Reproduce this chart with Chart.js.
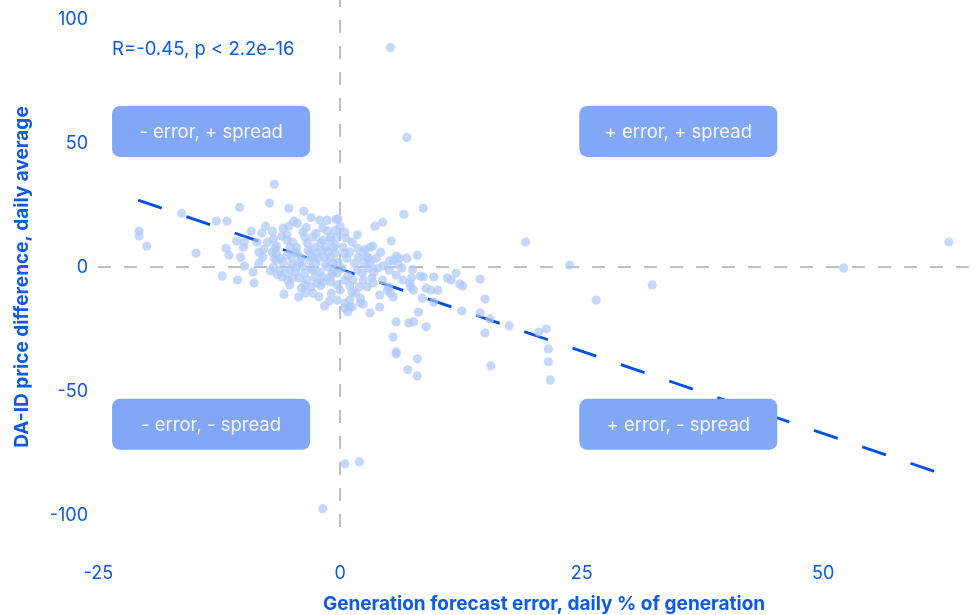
<!DOCTYPE html>
<html><head><meta charset="utf-8">
<script src="https://cdn.jsdelivr.net/npm/chart.js@4.4.1/dist/chart.umd.min.js"></script>
<style>html,body{margin:0;padding:0;background:#fff}</style>
</head><body>
<canvas id="c" width="974" height="615"></canvas>
<script>
// Generation forecast error (daily % of generation)
const errX = [5.2,6.9,63.0,52.1,32.3,26.5,23.75,19.2,0.5,2.0,-1.8,21.55,21.55,21.75,21.35,20.55,17.5,15.0,15.6,15.5,14.5,12.6,15.0,14.5,12.7,12.4,
5.5,5.8,5.8,5.8,7.1,7.6,8.9,8.0,7.0,8.0,8.1,3.1,4.1,0.8,0.5,2.1,2.4,1.25,
6.6,8.6,3.6,4.4,5.3,8.0,4.2,3.1,2.6,3.4,5.8,6.1,6.9,5.1,5.5,3.9,6.4,7.4,8.3,8.6,9.7,11.1,12.0,11.5,
9.4,10.1,8.9,7.2,7.3,7.6,8.5,9.7,4.1,5.2,5.5,4.9,5.0,3.1,2.9,3.0,2.4,2.0,1.6,2.1,1.0,-0.3,0.5,1.0,
-1.0,-0.5,-0.3,0.5,0.6,1.25,1.8,1.0,0.7,-0.5,-0.2,0.5,1.9,2.4,2.8,-0.3,-0.7,-1.0,1.8,2.3,1.35,2.4,3.3,3.4,2.8,
-6.8,-10.4,-7.3,-5.3,-3.75,-12.8,-11.7,-14.9,-11.8,-11.5,-10.7,-9.9,-10.0,-9.2,-8.1,-7.7,-10.3,-9.9,-8.4,-8.4,-7.9,
-12.2,-10.6,-8.9,-6.9,-5.9,-5.3,-4.4,-5.8,-4.3,-3.6,-2.8,-1.6,-1.1,-20.8,-20.8,-20.0,-16.4,
-6.7,-6.6,-6.6,-6.9,-6.25,-5.5,-5.2,-5.0,-5.5,-4.9,-4.5,-4.4,-4.2,-4.5,-5.2,-3.85,-3.65,-3.4,-3.3,-3.1,-3.65,
-2.8,-2.6,-2.4,-2.5,-2.8,-2.1,-1.8,-1.35,-1.8,-1.9,-1.6,-1.35,-1.8,-1.0,-0.7,-1.0,-0.7,-0.3,-1.0,
-5.7,-5.4,-4.9,-5.2,-4.2,-3.4,-3.65,-2.6,-2.4,-1.8,-6.25,-6.0,-6.8,-7.0,-6.6,-4.7,-3.1,-2.3,-3.85,-2.1,-1.5,-5.9,
0.2,0.5,0.0,1.25,4.4,5.8,6.5,5.1,3.75,-0.4,
-7.5,-6.0,-4.0,-3.0,-2.0,-1.2,-0.8,-5.0,-6.5,-4.6,-3.5,-2.9,-2.0,-1.5,-0.5,0.3,1.5,0.8,-7.2,-8.0,
-7.0,-5.5,-4.0,-3.0,-2.5,-1.3,0.0,1.0,-0.9,-2.2,3.5,4.5,6.0,7.5,-9.0,-8.6,-4.8,-3.0,-0.2,1.8];
// DA-ID price difference (daily average)
const spreadY = [88.5,52.3,10.1,-0.4,-7.2,-13.3,0.8,10.1,-79.3,-78.5,-97.4,-33.0,-38.2,-45.5,-24.9,-26.2,-23.7,-26.6,-39.8,-20.9,-18.5,-17.7,-12.9,-4.8,-7.6,-6.8,
-28.2,-34.2,-35.0,-22.1,-22.5,-22.1,-24.1,-37.0,-41.4,-43.9,-18.1,-18.5,-16.1,-18.1,-16.5,-14.5,-14.9,-16.1,
21.3,23.7,16.5,18.1,10.5,4.8,6.0,8.0,7.2,8.5,4.4,3.6,3.6,2.4,2.8,-0.4,-0.4,-4.4,-3.6,-4.0,-4.0,-4.4,-2.4,-5.2,
-9.3,-9.3,-8.5,-6.4,-8.0,-9.3,-12.5,-14.1,-11.3,-10.5,-12.1,-9.3,-8.0,1.6,-0.4,3.6,2.0,-8.0,-10.5,-12.5,-13.3,-13.3,-14.5,-16.1,
10.9,14.9,12.1,14.1,11.7,10.1,7.6,6.0,3.6,5.6,2.0,5.6,4.0,6.0,4.0,-2.4,-1.2,-4.0,-1.2,-2.4,-5.2,-5.2,-4.4,-6.4,-8.0,
33.4,24.1,25.8,23.7,22.5,18.5,18.5,5.6,7.6,4.8,10.5,10.1,8.0,14.5,13.7,16.5,4.0,0.4,1.6,6.0,7.2,
-3.6,-5.2,-6.4,11.3,15.7,16.5,17.7,-10.9,-12.1,-10.5,-10.5,-15.7,-13.7,14.5,12.5,8.5,21.7,
7.6,5.6,2.8,0.0,3.6,10.9,8.0,4.0,4.8,10.1,8.0,5.6,2.0,0.0,-1.2,14.1,12.1,9.7,6.8,2.8,-2.4,
12.1,8.0,5.6,1.6,-1.2,18.9,15.7,18.9,10.9,6.8,4.0,0.0,-4.0,12.1,8.0,4.0,1.6,-7.2,-6.0,
-2.4,-5.2,-4.4,-7.2,-4.4,-5.2,-7.2,-4.0,-6.4,-6.0,-1.2,-4.0,3.6,6.0,8.5,6.0,5.6,3.6,0.4,-2.0,8.0,2.0,
-0.4,-5.2,-9.3,-10.1,-5.2,-3.2,-5.2,-1.2,3.6,19.3,
10.0,12.5,3.5,-0.5,10.0,6.0,-2.5,1.0,-3.0,-2.0,16.0,3.9,-7.5,1.0,9.0,8.0,1.5,-3.5,-1.5,4.0,
14.5,13.0,-8.5,-8.0,13.5,14.5,16.5,-7.5,-10.5,-12.0,-2.0,0.5,1.0,-1.0,-2.0,10.0,18.5,20.0,19.5,13.0];
const xTicks = [-25, 0, 25, 50];
const yTicks = [-100, -50, 0, 50, 100];
// regression line endpoints
const regX = [-20.9, 62.2];
const regY = [27.0, -83.3];
// quadrant labels
const quadLabels = ['- error, + spread', '+ error, + spread', '- error, - spread', '+ error, - spread'];
const quadX = [-13.35, 35.0, -13.35, 35.0];
const quadY = [54.7, 54.7, -63.4, -63.4];
const statText = 'R=-0.45, p < 2.2e-16';
const statPos = [-23.6, 87.7];
const xTitle = 'Generation forecast error, daily % of generation';
const yTitle = 'DA-ID price difference, daily average';

const BLUE = '#0d5ae6';
const FONT = 'Inter, "Noto Sans", sans-serif';

const deco = {
  id: 'deco',
  beforeDatasetsDraw(chart) {
    const {ctx, chartArea: a, scales: {x, y}} = chart;
    const y0 = y.getPixelForValue(0), x0 = x.getPixelForValue(0);
    ctx.save();
    ctx.strokeStyle = '#bdbdbd'; ctx.lineWidth = 2; ctx.setLineDash([13, 13]);
    ctx.beginPath(); ctx.moveTo(a.left, y0); ctx.lineTo(a.right, y0); ctx.stroke();
    ctx.beginPath(); ctx.moveTo(x0, a.bottom); ctx.lineTo(x0, a.top); ctx.stroke();
    ctx.restore();
  },
  afterDatasetsDraw(chart) {
    const {ctx, scales: {x, y}} = chart;
    ctx.save();
    for (let i = 0; i < quadLabels.length; i++) {
      const cx = x.getPixelForValue(quadX[i]), cy = y.getPixelForValue(quadY[i]);
      const w = 198, h = 51;
      ctx.fillStyle = '#80a8f6';
      ctx.beginPath(); ctx.roundRect(cx - w / 2, cy - h / 2, w, h, 8); ctx.fill();
      ctx.fillStyle = '#f3f6ff';
      ctx.font = '18.5px ' + FONT;
      ctx.textAlign = 'center'; ctx.textBaseline = 'middle';
      ctx.fillText(quadLabels[i], cx, cy + 1);
    }
    ctx.fillStyle = BLUE;
    ctx.font = '18.5px ' + FONT;
    ctx.textAlign = 'left'; ctx.textBaseline = 'middle';
    ctx.fillText(statText, x.getPixelForValue(statPos[0]), y.getPixelForValue(statPos[1]));
    // axis titles
    ctx.font = 'bold 19px ' + FONT;
    ctx.textAlign = 'center'; ctx.textBaseline = 'middle';
    ctx.fillText(xTitle, 544, 604);
    ctx.translate(22, 277);
    ctx.rotate(-Math.PI / 2);
    ctx.fillText(yTitle, 0, 0);
    ctx.restore();
  }
};

new Chart(document.getElementById('c'), {
  type: 'scatter',
  data: {
    datasets: [
      {
        data: errX.map((v, i) => ({x: v, y: spreadY[i]})),
        backgroundColor: 'rgba(172,199,249,0.7)',
        borderWidth: 0,
        pointRadius: 4.6,
        pointHoverRadius: 4.6
      },
      {
        type: 'line',
        data: regX.map((v, i) => ({x: v, y: regY[i]})),
        borderColor: '#0050e6',
        borderWidth: 2.8,
        borderDash: [25, 26],
        pointRadius: 0,
        fill: false
      }
    ]
  },
  options: {
    responsive: false,
    devicePixelRatio: 1,
    animation: false,
    layout: {padding: 0, autoPadding: false},
    plugins: {legend: {display: false}, tooltip: {enabled: false}},
    scales: {
      x: {
        type: 'linear', min: -25.05, max: 65.6,
        grid: {display: false, drawTicks: false},
        border: {display: false},
        afterBuildTicks: s => { s.ticks = xTicks.map(v => ({value: v})); },
        afterFit: s => { s.height = 88; s.paddingLeft = 0; s.paddingRight = 0; },
        ticks: {color: BLUE, font: {family: FONT, size: 18}, padding: 36, maxRotation: 0},
        title: {display: false, text: xTitle}
      },
      y: {
        type: 'linear', min: -104.8, max: 107.7,
        grid: {display: false, drawTicks: false},
        border: {display: false},
        afterBuildTicks: s => { s.ticks = yTicks.map(v => ({value: v})); },
        afterFit: s => { s.width = 98; s.paddingTop = 0; s.paddingBottom = 0; },
        ticks: {color: BLUE, font: {family: FONT, size: 18}, padding: 10},
        title: {display: false, text: yTitle}
      }
    }
  },
  plugins: [deco]
});
</script>
</body></html>
